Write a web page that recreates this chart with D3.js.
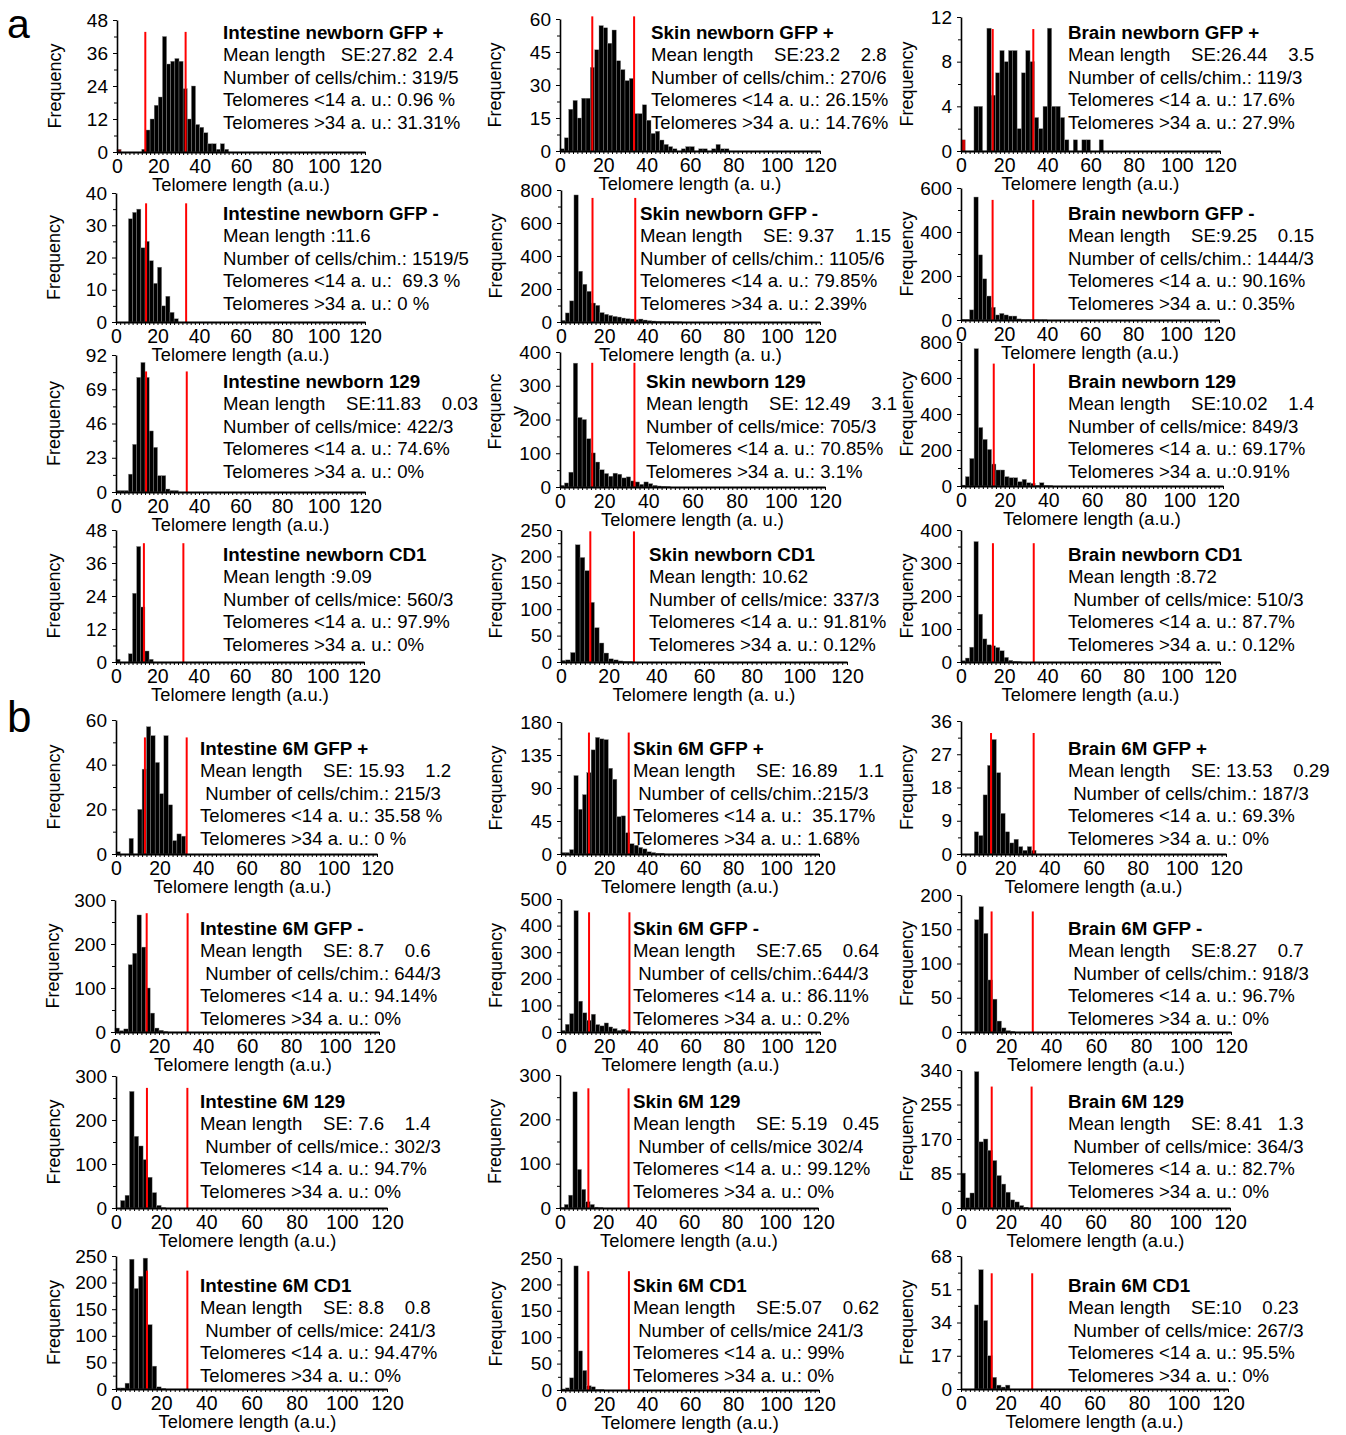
<!DOCTYPE html>
<html>
<head>
<meta charset="utf-8">
<script src="https://cdn.jsdelivr.net/npm/d3@7"></script>
<style>
  body { margin: 0; background: #fff; }
  text { font-family: "Liberation Sans", Arial, sans-serif; fill: #000; }
</style>
</head>
<body>
<div id="chart"></div>
<script>
// Histogram counts, one value per 2 a.u. bin starting at 0 (trailing bins are empty)
var intNbGfpPos  = [1,0,0,0,0,0,1,8,12,17,20,42,32,33,34,33,23,12,24,10,9,7,3,3,1,3,1];
var skinNbGfpPos = [1,6,19,23,15,24,24,38,46,57,56,49,55,41,37,32,33,17,17,21,14,8,9,5,3,2,1,0,1,2,2,0,1,1,0,1,3,1,1];
var brainNbGfpPos = [1,0,0,4,4,0,11,5,7,9,8,9,9,2,7,9,8,3,2,4,11,4,4,3,1,0,1,0,1,1,0,0,1];
var intNbGfpNeg  = [0,0,0,32,34,35,23,25,19,12,17,5,8,3,1];
var skinNbGfpNeg = [10,55,128,770,308,229,186,115,101,57,47,40,34,30,24,20,18,14,18,12,8,6,4,3,2,2,1,1];
var brainNbGfpNeg = [3,3,46,559,296,187,109,58,23,30,23,18,18,5,3,3,2,2,1,1];
var intNb129     = [1,1,1,12,32,77,87,77,41,30,11,11,2,1,1];
var skinNb129    = [5,12,44,367,206,200,143,101,74,51,40,32,41,38,27,30,18,15,8,15,10,5,3,2,1];
var brainNb129   = [5,52,153,763,325,259,203,122,89,89,52,46,46,24,37,18,15,4,18,3,2];
var intNbCd1     = [1,0,0,3,25,42,20,4,1];
var skinNbCd1    = [3,4,18,222,198,173,113,65,36,17,6,4,2,1,1];
var brainNbCd1   = [4,12,45,365,145,70,52,49,44,34,14,5,2,1];
var int6mGfpPos  = [1,0,0,7,0,20,38,57,53,41,27,53,22,6,9,8];
var skin6mGfpPos = [2,2,6,107,61,81,111,142,159,157,156,117,102,51,52,29,14,12,9,7,3,2,1,1];
var brain6mGfpPos = [0,0,0,6,5,16,24,31,22,11,6,3,4,2,1,2,1];
var int6mGfpNeg  = [9,3,7,153,179,266,193,100,43,9,4,1];
var skin6mGfpNeg = [6,29,69,456,116,72,44,67,28,23,34,19,13,6,10,6,2,1];
var brain6mGfpNeg = [0,0,0,164,183,144,76,48,16,6,2,1];
var int6m129     = [0,17,29,265,163,141,110,70,35,6,1];
var skin6m129    = [1,8,29,262,87,42,14,8,2,1];
var brain6m129   = [86,25,37,336,163,170,142,117,80,59,39,20,15,6,2];
var int6mCd1     = [2,2,11,244,189,212,246,121,43,4,1];
var skin6mCd1    = [2,4,23,235,74,37,8,6,1,1];
var brain6mCd1   = [0,0,0,43,61,35,17,6,2,1,2];

var histograms = [
  intNbGfpPos, skinNbGfpPos, brainNbGfpPos,
  intNbGfpNeg, skinNbGfpNeg, brainNbGfpNeg,
  intNb129, skinNb129, brainNb129,
  intNbCd1, skinNbCd1, brainNbCd1,
  int6mGfpPos, skin6mGfpPos, brain6mGfpPos,
  int6mGfpNeg, skin6mGfpNeg, brain6mGfpNeg,
  int6m129, skin6m129, brain6m129,
  int6mCd1, skin6mCd1, brain6mCd1
];
var binWidth = 2;

// Frequency axis maximum and tick step per panel
var yMax  = [48,60,12, 40,800,600, 92,400,800, 48,250,400, 60,180,36, 300,500,200, 300,300,340, 250,250,68];
var yStep = [12,15,4, 10,200,200, 23,100,200, 12,50,100, 20,45,9, 100,100,50, 100,100,85, 50,50,17];

// Thresholds drawn as red lines (a.u.)
var cutLow  = [13.7,14.9,14.7, 14.5,14.6,14.7, 14.5,14.6,15.0, 13.5,12.3,14.8, 13.3,13.0,13.6, 14.4,13.0,13.6, 13.7,13.2,13.7, 13.7,12.7,13.8];
var cutHigh = [33.2,34.2,33.5, 33.8,34.4,33.6, 34.1,33.7,33.4, 32.6,30.6,33.7, 32.5,31.5,32.9, 33.0,31.7,31.9, 31.6,31.9,31.5, 31.6,31.6,32.0];

var titles = [
  "Intestine newborn GFP +", "Skin newborn GFP +", "Brain newborn GFP +",
  "Intestine newborn GFP -", "Skin newborn GFP -", "Brain newborn GFP -",
  "Intestine newborn 129", "Skin newborn 129", "Brain newborn 129",
  "Intestine newborn CD1", "Skin newborn CD1", "Brain newborn CD1",
  "Intestine 6M GFP +", "Skin 6M GFP +", "Brain 6M GFP +",
  "Intestine 6M GFP -", "Skin 6M GFP -", "Brain 6M GFP -",
  "Intestine 6M 129", "Skin 6M 129", "Brain 6M 129",
  "Intestine 6M CD1", "Skin 6M CD1", "Brain 6M CD1"
];
var meanLines = [
  "Mean length   SE:27.82  2.4", "Mean length    SE:23.2    2.8", "Mean length    SE:26.44    3.5",
  "Mean length :11.6", "Mean length    SE: 9.37    1.15", "Mean length    SE:9.25    0.15",
  "Mean length    SE:11.83    0.03", "Mean length    SE: 12.49    3.1", "Mean length    SE:10.02    1.4",
  "Mean length :9.09", "Mean length: 10.62", "Mean length :8.72",
  "Mean length    SE: 15.93    1.2", "Mean length    SE: 16.89    1.1", "Mean length    SE: 13.53    0.29",
  "Mean length    SE: 8.7    0.6", "Mean length    SE:7.65    0.64", "Mean length    SE:8.27    0.7",
  "Mean length    SE: 7.6    1.4", "Mean length    SE: 5.19   0.45", "Mean length    SE: 8.41   1.3",
  "Mean length    SE: 8.8    0.8", "Mean length    SE:5.07    0.62", "Mean length    SE:10    0.23"
];
var cellLines = [
  "Number of cells/chim.: 319/5", "Number of cells/chim.: 270/6", "Number of cells/chim.: 119/3",
  "Number of cells/chim.: 1519/5", "Number of cells/chim.: 1105/6", "Number of cells/chim.: 1444/3",
  "Number of cells/mice: 422/3", "Number of cells/mice: 705/3", "Number of cells/mice: 849/3",
  "Number of cells/mice: 560/3", "Number of cells/mice: 337/3", " Number of cells/mice: 510/3",
  " Number of cells/chim.: 215/3", " Number of cells/chim.:215/3", " Number of cells/chim.: 187/3",
  " Number of cells/chim.: 644/3", " Number of cells/chim.:644/3", " Number of cells/chim.: 918/3",
  " Number of cells/mice.: 302/3", " Number of cells/mice 302/4", " Number of cells/mice: 364/3",
  " Number of cells/mice: 241/3", " Number of cells/mice 241/3", " Number of cells/mice: 267/3"
];
var lowLines = [
  "Telomeres <14 a. u.: 0.96 %", "Telomeres <14 a. u.: 26.15%", "Telomeres <14 a. u.: 17.6%",
  "Telomeres <14 a. u.:  69.3 %", "Telomeres <14 a. u.: 79.85%", "Telomeres <14 a. u.: 90.16%",
  "Telomeres <14 a. u.: 74.6%", "Telomeres <14 a. u.: 70.85%", "Telomeres <14 a. u.: 69.17%",
  "Telomeres <14 a. u.: 97.9%", "Telomeres <14 a. u.: 91.81%", "Telomeres <14 a. u.: 87.7%",
  "Telomeres <14 a. u.: 35.58 %", "Telomeres <14 a. u.:  35.17%", "Telomeres <14 a. u.: 69.3%",
  "Telomeres <14 a. u.: 94.14%", "Telomeres <14 a. u.: 86.11%", "Telomeres <14 a. u.: 96.7%",
  "Telomeres <14 a. u.: 94.7%", "Telomeres <14 a. u.: 99.12%", "Telomeres <14 a. u.: 82.7%",
  "Telomeres <14 a. u.: 94.47%", "Telomeres <14 a. u.: 99%", "Telomeres <14 a. u.: 95.5%"
];
var highLines = [
  "Telomeres >34 a. u.: 31.31%", "Telomeres >34 a. u.: 14.76%", "Telomeres >34 a. u.: 27.9%",
  "Telomeres >34 a. u.: 0 %", "Telomeres >34 a. u.: 2.39%", "Telomeres >34 a. u.: 0.35%",
  "Telomeres >34 a. u.: 0%", "Telomeres >34 a. u.: 3.1%", "Telomeres >34 a. u.:0.91%",
  "Telomeres >34 a. u.: 0%", "Telomeres >34 a. u.: 0.12%", "Telomeres >34 a. u.: 0.12%",
  "Telomeres >34 a. u.: 0 %", "Telomeres >34 a. u.: 1.68%", "Telomeres >34 a. u.: 0%",
  "Telomeres >34 a. u.: 0%", "Telomeres >34 a. u.: 0.2%", "Telomeres >34 a. u.: 0%",
  "Telomeres >34 a. u.: 0%", "Telomeres >34 a. u.: 0%", "Telomeres >34 a. u.: 0%",
  "Telomeres >34 a. u.: 0%", "Telomeres >34 a. u.: 0%", "Telomeres >34 a. u.: 0%"
];
var xTitles = [
  "Telomere length (a.u.)", "Telomere length (a. u.)", "Telomere length (a.u.)",
  "Telomere length (a.u.)", "Telomere length (a. u.)", "Telomere length (a.u.)",
  "Telomere length (a.u.)", "Telomere length (a. u.)", "Telomere length (a.u.)",
  "Telomere length (a.u.)", "Telomere length (a. u.)", "Telomere length (a.u.)"
];
var xTicks = [0, 20, 40, 60, 80, 100, 120];

// Layout: plot frames [left, right, top, bottom] in page pixels
var frames = [
  [117,365,20,152], [560,820,19,151], [961,1220,17,151],
  [116,365,193,322], [561,820,190,322], [961,1219,188,320],
  [116,365,355,492], [560,825,352,487], [961,1223,342,486],
  [116,364,530,662], [561,847,530,662], [961,1220,530,662],
  [116,377,720,854], [561,819,722,854], [961,1226,721,854],
  [115,379,900,1032], [561,820,899,1032], [961,1231,895,1032],
  [116,387,1076,1208], [560,818,1075,1208], [961,1230,1070,1208],
  [116,387,1256,1389], [561,819,1258,1390], [961,1228,1256,1389]
];
var cutTop = [0.91,1.02,0.91, 0.92,0.94,0.91, 0.88,0.92,0.85, 0.9,0.99,0.9,
              0.87,0.92,0.91, 0.9,0.9,0.88, 0.91,0.9,0.88, 0.89,0.9,0.87];
var textX = [223,651,1068, 223,640,1068, 223,646,1068, 223,649,1068,
             200,633,1068, 200,633,1068, 200,633,1068, 200,633,1068];
var textRowY = [39, 220, 388, 561, 755, 935, 1108, 1292];
var freqOffset = [62, 65, 54];
var lineGap = 22.4;

var svg = d3.select("#chart")
  .append("svg")
  .attr("width", 1346)
  .attr("height", 1435);

// Panel letters
svg.append("text").attr("x", 7).attr("y", 37.5).style("font-size", "41px").text("a");
svg.append("text").attr("x", 7).attr("y", 732).style("font-size", "44px").text("b");

frames.forEach(function(f, p) {
  var col = p % 3;
  var row = Math.floor(p / 3);
  var g = svg.append("g");

  var x = d3.scaleLinear().domain([0, 120]).range([f[0], f[1]]);
  var y = d3.scaleLinear().domain([0, yMax[p]]).range([f[3], f[2]]);

  var bins = histograms[p].map(function(v, i) { return { x0: i * binWidth, v: v }; })
    .filter(function(d) { return d.v > 0; });

  // Bars
  g.selectAll(".bar")
    .data(bins)
    .enter()
    .append("rect")
    .attr("class", "bar")
    .attr("x", function(d) { return x(d.x0); })
    .attr("width", x(binWidth) - x(0))
    .attr("y", function(d) { return y(d.v); })
    .attr("height", function(d) { return y(0) - y(d.v); })
    .attr("fill", function(d) {
      if (d.x0 === 0 && p === 0) return "#7a0000";
      if (d.x0 === 0 && p === 2) return "#d00000";
      return "#000";
    })
    .attr("stroke", "#8c8c8c")
    .attr("stroke-width", 0.4);

  // Red threshold lines
  [cutLow[p], cutHigh[p]].forEach(function(c) {
    g.append("line")
      .attr("x1", x(c)).attr("x2", x(c))
      .attr("y1", y(0)).attr("y2", y(yMax[p] * cutTop[p]))
      .attr("stroke", "#f00")
      .attr("stroke-width", 2);
  });

  // Y axis: major ticks with labels, minor ticks without
  var major = d3.range(0, yMax[p] + yStep[p] / 2, yStep[p]);
  var minor = d3.range(yStep[p] / 2, yMax[p], yStep[p]);
  var yAxis = g.append("g")
    .attr("transform", "translate(" + f[0] + ",0)")
    .call(d3.axisLeft(y).tickValues(major).tickSize(4).tickSizeOuter(0).tickPadding(5));
  g.append("g")
    .attr("transform", "translate(" + f[0] + ",0)")
    .call(d3.axisLeft(y).tickValues(minor).tickSize(3).tickSizeOuter(0).tickFormat(""))
    .select(".domain").remove();
  yAxis.select(".domain").attr("stroke-width", 1.6);
  yAxis.selectAll("text").style("font-size", "19px").attr("fill", "#000");

  // X axis: dense small ticks every bin, labels every 20
  var xAxis = g.append("g")
    .attr("transform", "translate(0," + f[3] + ")")
    .call(d3.axisBottom(x).tickValues(d3.range(0, 121, binWidth)).tickSize(3).tickSizeOuter(0).tickFormat(""));
  xAxis.select(".domain").attr("stroke-width", 2.2);
  var xLab = g.append("g")
    .attr("transform", "translate(0," + f[3] + ")")
    .call(d3.axisBottom(x).tickValues(xTicks).tickSize(0).tickPadding(7));
  xLab.select(".domain").remove();
  xLab.selectAll("text").style("font-size", "19.5px").attr("fill", "#000");

  // X axis title
  g.append("text")
    .attr("x", (f[0] + f[1]) / 2 - (row >= 4 && col === 0 ? 4 : 0))
    .attr("y", f[3] + 39)
    .attr("text-anchor", "middle")
    .style("font-size", "18.3px")
    .text(row < 4 ? xTitles[p] : "Telomere length (a.u.)");

  // Y axis title
  var fx = f[0] - freqOffset[col];
  var fy = (f[2] + f[3]) / 2;
  if (p === 7) {
    g.append("text")
      .attr("transform", "translate(" + fx + "," + (fy - 8) + ") rotate(-90)")
      .attr("text-anchor", "middle").attr("dy", "0.35em")
      .style("font-size", "18px").text("Frequenc");
    g.append("text")
      .attr("transform", "translate(" + (fx + 23) + "," + (fy - 9) + ") rotate(-90)")
      .attr("text-anchor", "middle").attr("dy", "0.35em")
      .style("font-size", "18px").text("y");
  } else {
    g.append("text")
      .attr("transform", "translate(" + fx + "," + fy + ") rotate(-90)")
      .attr("text-anchor", "middle").attr("dy", "0.35em")
      .style("font-size", "18px").text("Frequency");
  }

  // Statistics block
  var lines = [titles[p], meanLines[p], cellLines[p], lowLines[p], highLines[p]];
  g.selectAll(".stat")
    .data(lines)
    .enter()
    .append("text")
    .attr("class", "stat")
    .attr("x", textX[p])
    .attr("y", function(d, i) { return textRowY[row] + i * lineGap; })
    .style("font-size", function(d, i) { return i === 0 ? "18.8px" : "18.6px"; })
    .style("font-weight", function(d, i) { return i === 0 ? "bold" : "normal"; })
    .style("white-space", "pre")
    .text(function(d) { return d; });
});
</script>
</body>
</html>
